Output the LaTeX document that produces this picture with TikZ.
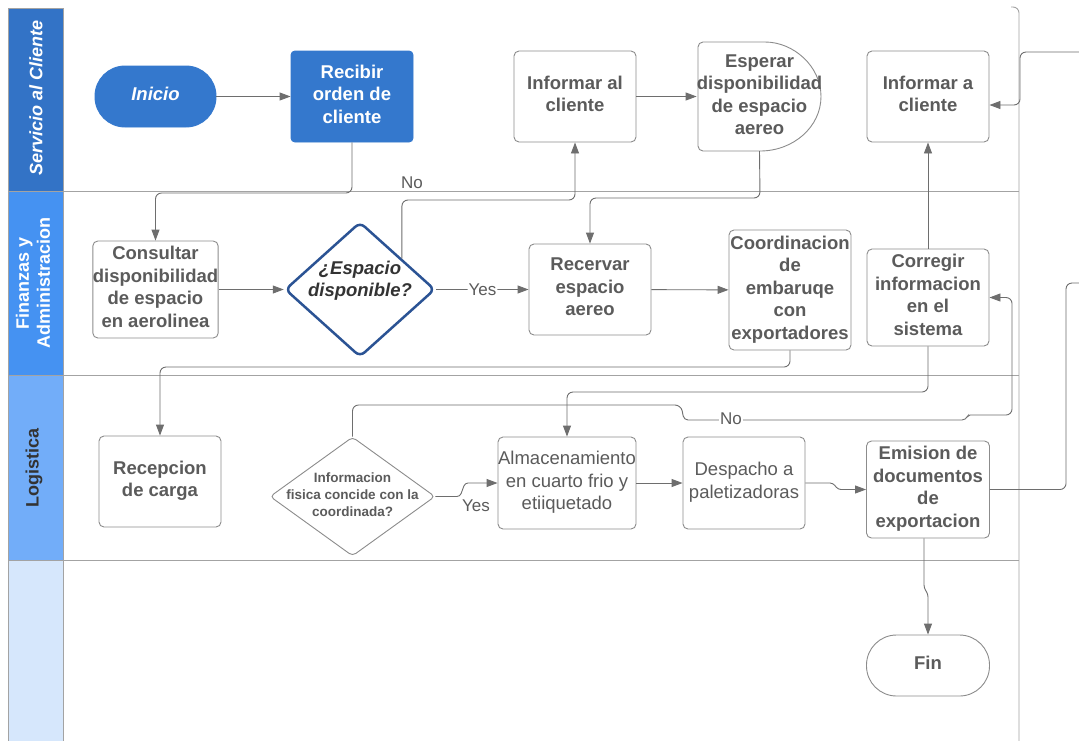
\documentclass[tikz,border=0pt]{standalone}
\usepackage{fontspec}
\setmainfont{Liberation Sans}
\usetikzlibrary{shapes.geometric,arrows.meta,calc}
\definecolor{blueA}{HTML}{3478CD}
\definecolor{hdrA}{HTML}{3373C6}
\definecolor{hdrB}{HTML}{4592F2}
\definecolor{hdrC}{HTML}{72ADF9}
\definecolor{hdrD}{HTML}{D6E7FC}
\definecolor{dblue}{HTML}{2B5394}
\definecolor{boxgray}{HTML}{8C8C8C}
\definecolor{lngray}{HTML}{6E6E6E}
\definecolor{sepgray}{HTML}{A3A3A3}
\definecolor{txtgray}{HTML}{5B5B5B}
\definecolor{darktxt}{HTML}{333333}
\newcommand{\bigfs}{\fontsize{18.5}{22.5}\selectfont}
\tikzset{
  proc/.style={draw=boxgray, line width=0.9pt, fill=white, rounded corners=5pt,
    text=txtgray, align=center, inner sep=0pt, minimum width=122pt,
    minimum height=91pt, font=\bigfs\bfseries, text depth=5pt},
  procn/.style={proc, font=\bigfs},
  bluebox/.style={proc, draw=blueA, fill=blueA, text=white},
  conn/.style={draw=lngray, line width=0.9pt, rounded corners=6pt,
    -{Triangle[length=11pt,width=8pt]}},
  plainconn/.style={draw=lngray, line width=0.9pt, rounded corners=6pt},
  lbl/.style={text=txtgray, font=\fontsize{17}{20}\selectfont, inner sep=1pt},
  laneline/.style={draw=sepgray, line width=0.9pt},
  hdr/.style={draw=sepgray, line width=0.8pt},
  hdrtext/.style={rotate=90, align=center, inner sep=0pt},
}
\begin{document}
\begin{tikzpicture}[x=1pt,y=-1pt]
\useasboundingbox (0,0) rectangle (1079,740);
\fill[white] (0,0) rectangle (1079,740);
% lane headers
\path[hdr, fill=hdrA] (8,8) rectangle (63,191);
\path[hdr, fill=hdrB] (8,191) rectangle (63,375);
\path[hdr, fill=hdrC] (8,375) rectangle (63,560);
\path[hdr, fill=hdrD] (8,560) rectangle (63,742);
\node[hdrtext, text=white, font=\fontsize{18}{22}\selectfont\bfseries\itshape] (h1) at (36,98) {Servicio al Cliente};
\node[hdrtext, text=white, font=\fontsize{18}{21}\selectfont\bfseries] (h2) at (33,283) {Finanzas y\\Administracion};
\node[hdrtext, text=darktxt, font=\fontsize{18}{22}\selectfont\bfseries] (h3) at (34,468) {Logistica};
% lane separators
\draw[laneline] (63,191) -- (1019,191);
\draw[laneline] (63,375) -- (1019,375);
\draw[laneline] (63,560) -- (1019,560);
\draw[laneline, rounded corners=6pt] (1011,7) -- (1019,7) -- (1019,742);

% lane 1
\node[bluebox, rounded corners=30pt, minimum width=121pt, minimum height=61pt,
  font=\bigfs\bfseries\itshape] (inicio) at (155.5,96.5) {Inicio};
\node[bluebox, rounded corners=4pt] (recibir) at (352,96.5) {Recibir\\orden de\\cliente};
\node[proc] (infal) at (575,96.5) {Informar al\\cliente};
\draw[draw=boxgray, line width=0.9pt, fill=white]
  (760,42) arc[start angle=-90, end angle=90, x radius=61, y radius=54.5]
  [rounded corners=5pt] -- (698,151) -- (698,42) -- cycle;
\node[inner sep=0pt, minimum width=123pt, minimum height=109pt, text=txtgray,
  align=center, font=\bigfs\bfseries, text depth=4pt] (esperar) at (759.5,96.5)
  {Esperar\\disponibilidad\\de espacio\\aereo};
\node[proc] (infa) at (928,96.5) {Informar a\\cliente};

% lane 2
\node[proc, minimum width=121pt, minimum height=97pt] (consultar) at (155.5,289.5)
  {Consultar\\disponibilidad\\de espacio\\en aerolinea};
\node[diamond, draw=dblue, line width=2.5pt, rounded corners=6pt, fill=white,
  minimum width=150pt, minimum height=135pt, inner sep=0pt] (esp) at (360,289.5) {};
\node[font=\bigfs\bfseries\itshape, text=darktxt, align=center, inner sep=0pt]
  (esptxt) at (360,280.5) {¿Espacio\\disponible?};
\node[proc] (recervar) at (590,289.5) {Recervar\\espacio\\aereo};
\node[proc, minimum height=120pt] (coord) at (790,290)
  {Coordinacion\\de\\embaruqe\\con\\exportadores};
\node[proc, minimum height=97pt] (corregir) at (928,297.5)
  {Corregir\\informacion\\en el\\sistema};

% lane 3
\node[proc] (recepcion) at (160,481.5) {Recepcion\\de carga};
\node[diamond, draw=boxgray, line width=0.9pt, rounded corners=4pt, fill=white,
  minimum width=165pt, minimum height=119pt, inner sep=0pt] (info) at (352.5,496.5) {};
\node[font=\fontsize{13.5}{17}\selectfont\bfseries, text=txtgray, align=center,
  inner sep=0pt] (infotxt) at (352.5,494.5) {Informacion\\fisica concide con la\\coordinada?};
\node[procn, minimum width=138pt, minimum height=92pt] (almac) at (567,483)
  {Almacenamiento\\en cuarto frio y\\etiiquetado};
\node[procn, minimum height=92pt] (despacho) at (744,483) {Despacho a\\paletizadoras};
\node[proc, minimum width=123pt, minimum height=97pt] (emision) at (928,489.5)
  {Emision de\\documentos\\de\\exportacion};

% lane 4
\node[proc, rounded corners=30pt, minimum width=123pt, minimum height=61pt] (fin)
  at (928,665.5) {Fin};

% free ends
\coordinate (inR) at (1079,52);
\coordinate (outR) at (1079,283);
\coordinate (nostart) at ($(esp.north)!0.55!(esp.east)$);

% connectors
\draw[conn] (inicio) -- (recibir);
\draw[conn] (recibir.south) -- (352,193) -- (155.5,193) -- (consultar.north);
\draw[conn] (consultar) -- (esp);
\draw[conn] (nostart) -- (nostart |- 0,200) -- (infal.south |- 0,200) -- (infal.south);
\node[lbl] (nolbl) at (412,183) {No};
\draw[conn] (esp) -- node[lbl, fill=white, inner sep=1pt] (yeslbl) {Yes} (recervar);
\draw[conn] (infal) -- (esperar);
\draw[conn] (esperar.south) -- (760,198) -- (590,198) -- (recervar.north);
\draw[conn] (recervar) -- (coord);
\draw[conn] (coord.south) -- (790,367) -- (160,367) -- (recepcion.north);
\draw[conn] (corregir.north) -- (infa.south);
\draw[conn] (corregir.south) -- (928,392) -- (567,392) -- (almac.north);
\draw[conn] (info.north) -- (352.5,405) -- (681,405) [rounded corners=4pt] -- (684,420)
  -- (966,420) [rounded corners=2pt] -- (968,415) [rounded corners=6pt] -- (1012,415)
  -- (1012,297.5) -- (corregir.east);
\node[lbl, fill=white] (no2lbl) at (731,419) {No};
\draw[conn] (info.east) [rounded corners=3pt] -- (460,496.5) -- (465,483) -- (almac.west);
\node[lbl] (yes2lbl) at (476,506) {Yes};
\draw[conn] (almac) -- (despacho);
\draw[conn] (despacho.east) [rounded corners=3pt] -- (833,483) -- (838,489.5) -- (emision.west);
\draw[plainconn] (emision.east) -- (1066,489.5) -- (1066,283) -- (outR);
\draw[conn] (inR) -- (1020,52) -- (1020,105) -- ($(infa.east)+(0,8.5)$);
\draw[conn] ($(emision.south)+(-4,0)$) [rounded corners=3pt] -- (924,588) -- (928,594) -- (fin.north);
\end{tikzpicture}
\end{document}
